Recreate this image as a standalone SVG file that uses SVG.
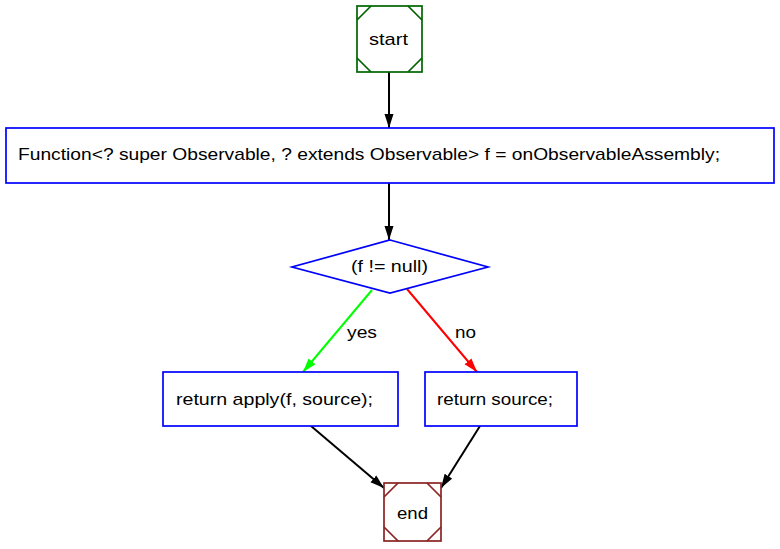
<svg xmlns="http://www.w3.org/2000/svg" width="780" height="549" viewBox="0 0 780 549">
<style>
text{font-family:"Liberation Sans",Arial,sans-serif;font-size:17px;fill:#000}
.box{fill:#fff;stroke:#0000ff;stroke-width:1.7}
.e{fill:none;stroke-width:2}
</style>
<defs>
<marker id="ab" viewBox="0 0 14 10" refX="14" refY="5" markerWidth="14" markerHeight="10" markerUnits="userSpaceOnUse" orient="auto"><path d="M0,0.5 L14,5 L0,9.5 z" fill="#000"/></marker>
<marker id="ag" viewBox="0 0 14 10" refX="14" refY="5" markerWidth="14" markerHeight="10" markerUnits="userSpaceOnUse" orient="auto"><path d="M0,0.5 L14,5 L0,9.5 z" fill="#00ff00"/></marker>
<marker id="ar" viewBox="0 0 14 10" refX="14" refY="5" markerWidth="14" markerHeight="10" markerUnits="userSpaceOnUse" orient="auto"><path d="M0,0.5 L14,5 L0,9.5 z" fill="#ff0000"/></marker>
</defs>
<rect width="780" height="549" fill="#fff"/>
<g id="edges">
<line class="e" x1="389" y1="72" x2="389" y2="128" stroke="#000" marker-end="url(#ab)"/>
<line class="e" x1="389" y1="183" x2="389" y2="240" stroke="#000" marker-end="url(#ab)"/>
<line class="e" x1="372" y1="290" x2="303" y2="372" stroke="#00ff00" marker-end="url(#ag)"/>
<text x="347" y="338" textLength="30" lengthAdjust="spacingAndGlyphs">yes</text>
<line class="e" x1="407" y1="289" x2="477" y2="372" stroke="#ff0000" marker-end="url(#ar)"/>
<text x="455" y="338" textLength="21" lengthAdjust="spacingAndGlyphs">no</text>
<line class="e" x1="311" y1="426" x2="384" y2="488" stroke="#000" marker-end="url(#ab)"/>
<line class="e" x1="480" y1="426" x2="441" y2="488" stroke="#000" marker-end="url(#ab)"/>
</g>
<g id="start">
<rect x="357" y="6" width="65" height="66" fill="#fff" stroke="#006400" stroke-width="1.7"/>
<path d="M357,20 L371,6 M408,6 L422,20 M357,58 L371,72 M408,72 L422,58" fill="none" stroke="#006400" stroke-width="1.7"/>
<text x="369" y="45" textLength="39" lengthAdjust="spacingAndGlyphs">start</text>
</g>
<g id="assign">
<rect class="box" x="6" y="128" width="768" height="55"/>
<text x="18" y="160" textLength="702" lengthAdjust="spacingAndGlyphs">Function&lt;? super Observable, ? extends Observable&gt; f = onObservableAssembly;</text>
</g>
<g id="cond">
<polygon class="box" points="390,240 488,267 390,293 292,267"/>
<text x="351" y="272" textLength="77" lengthAdjust="spacingAndGlyphs">(f != null)</text>
</g>
<g id="yesbox">
<rect class="box" x="163" y="372" width="235" height="54"/>
<text x="176" y="405" textLength="197" lengthAdjust="spacingAndGlyphs">return apply(f, source);</text>
</g>
<g id="nobox">
<rect class="box" x="425" y="372" width="152" height="54"/>
<text x="437" y="405" textLength="116" lengthAdjust="spacingAndGlyphs">return source;</text>
</g>
<g id="end">
<rect x="384" y="483" width="57" height="58" fill="#fff" stroke="#8b2323" stroke-width="1.7"/>
<path d="M384,497 L398,483 M427,483 L441,497 M384,527 L398,541 M427,541 L441,527" fill="none" stroke="#8b2323" stroke-width="1.7"/>
<text x="397" y="519" textLength="31" lengthAdjust="spacingAndGlyphs">end</text>
</g>
</svg>
